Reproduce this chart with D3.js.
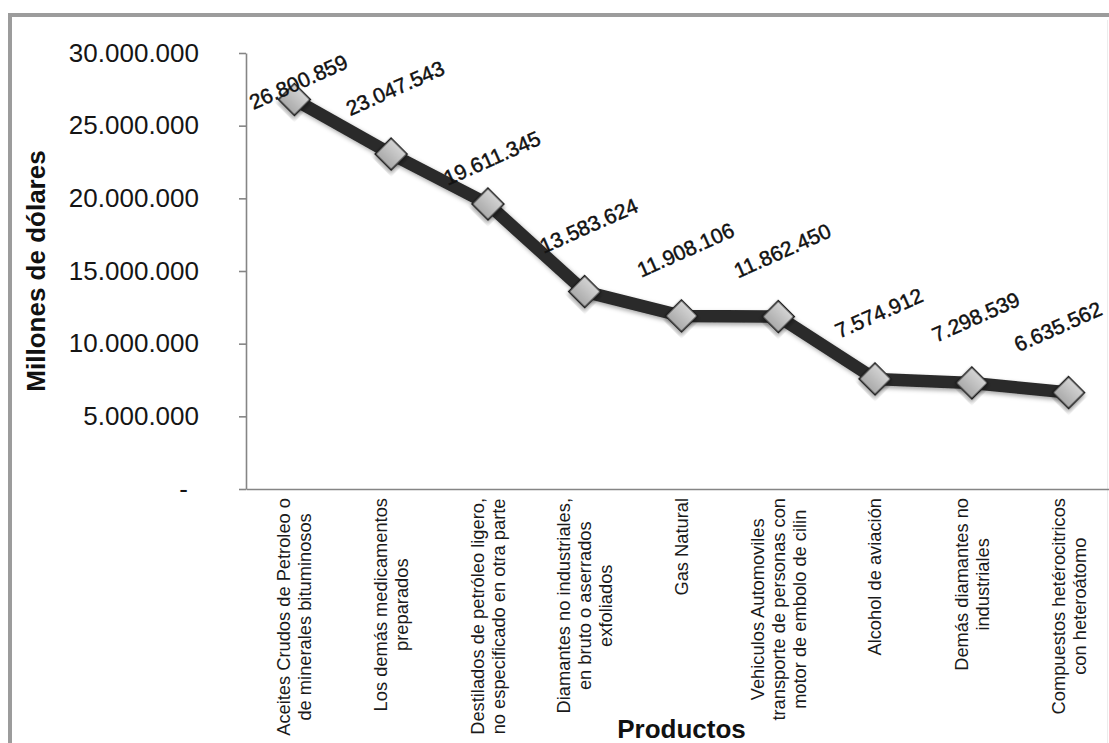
<!DOCTYPE html>
<html lang="es">
<head>
<meta charset="utf-8">
<title>Productos – Millones de dólares</title>
<script src="https://cdn.jsdelivr.net/npm/d3@7"></script>
<style>
  html, body { margin: 0; padding: 0; background: #ffffff; }
  svg { display: block; font-family: "Liberation Sans", Arial, Helvetica, sans-serif; }
</style>
</head>
<body>
<svg id="chart" width="1109" height="743"></svg>
<script>
// Product names (one entry per line of each category label)
const categories = [
  ["Aceites Crudos de Petroleo o", "de minerales bituminosos"],
  ["Los demás medicamentos", "preparados"],
  ["Destilados de petróleo ligero,", "no especificado en otra parte"],
  ["Diamantes no industriales,", "en bruto o aserrados", "exfoliados"],
  ["Gas Natural"],
  ["Vehiculos Automoviles", "transporte de personas con", "motor de embolo de cilin"],
  ["Alcohol de aviación"],
  ["Demás diamantes no", "industriales"],
  ["Compuestos hetérocitricos", "con heteroátomo"]
];

// Export value per product
const values = [
  26800859, 23047543, 19611345, 13583624, 11908106,
  11862450, 7574912, 7298539, 6635562
];

// Value-axis ticks
const yTicks = [0, 5000000, 10000000, 15000000, 20000000, 25000000, 30000000];

const yTitle = "Millones de dólares";
const xTitle = "Productos";

// ---------------------------------------------------------------
const locale = d3.formatLocale({ decimal: ",", thousands: ".", grouping: [3], currency: ["$", ""] });
const fmt = locale.format(",.0f");

const svg = d3.select("#chart");
const W = 1109, H = 743;
const plot = { left: 246, top: 53, right: 1117, bottom: 489 };

const x = d3.scaleBand()
  .domain(d3.range(values.length))
  .range([plot.left, plot.right])
  .paddingInner(0).paddingOuter(0);

const y = d3.scaleLinear()
  .domain([0, 30000000])
  .range([plot.bottom, plot.top]);

const cx = i => x(i) + x.bandwidth() / 2;

// defs: marker gradient and soft shadow
const defs = svg.append("defs");
const grad = defs.append("linearGradient")
  .attr("id", "markerFill").attr("x1", 0).attr("y1", 0).attr("x2", 0).attr("y2", 1);
grad.append("stop").attr("offset", "0%").attr("stop-color", "#d4d4d4");
grad.append("stop").attr("offset", "100%").attr("stop-color", "#a9a9a9");

const shadow = defs.append("filter").attr("id", "soft")
  .attr("x", "-20%").attr("y", "-20%").attr("width", "140%").attr("height", "140%");
shadow.append("feDropShadow")
  .attr("dx", 2).attr("dy", 2.5).attr("stdDeviation", 2)
  .attr("flood-color", "#000").attr("flood-opacity", 0.35);

// outer frame of the chart area
svg.append("rect")
  .attr("x", 10).attr("y", 15)
  .attr("width", W + 20).attr("height", H + 20)
  .attr("fill", "none").attr("stroke", "#9c9c9c").attr("stroke-width", 4);
svg.append("line")
  .attr("x1", 1107.5).attr("x2", 1107.5).attr("y1", 20).attr("y2", H)
  .attr("stroke", "#ececec").attr("stroke-width", 1);

// value axis
const yAxis = svg.append("g")
  .attr("transform", `translate(${plot.left},0)`)
  .call(d3.axisLeft(y)
    .tickValues(yTicks)
    .tickSize(7)
    .tickSizeOuter(0)
    .tickPadding(40)
    .tickFormat(d => d === 0 ? "-" : fmt(d)));
yAxis.select(".domain").attr("stroke", "#858585").attr("stroke-width", 1.6);
yAxis.selectAll(".tick line").attr("stroke", "#858585").attr("stroke-width", 1.6);
yAxis.selectAll(".tick text")
  .attr("fill", "#151515")
  .style("font-size", "26px")
  .attr("dx", d => d === 0 ? -11 : 0);

// category axis
const xAxis = svg.append("g")
  .attr("transform", `translate(0,${plot.bottom})`)
  .call(d3.axisBottom(x).tickSize(0).tickSizeOuter(0).tickFormat(""));
xAxis.select(".domain").attr("stroke", "#858585").attr("stroke-width", 1.6);

// category labels, rotated, lines centred within each block
const labelTop = plot.bottom + 9;
const lineGap = 21;
const catG = svg.append("g").selectAll("g")
  .data(categories)
  .join("g")
  .attr("transform", (d, i) => `translate(${cx(i)},${labelTop}) rotate(-90)`);

catG.each(function (lines) {
  const g = d3.select(this);
  const n = lines.length;
  const texts = g.selectAll("text")
    .data(lines)
    .join("text")
    .attr("y", (d, j) => (j - (n - 1) / 2) * lineGap)
    .attr("dy", "0.35em")
    .attr("text-anchor", "middle")
    .attr("fill", "#1a1a1a")
    .style("font-size", "18.3px")
    .text(d => d);
  let maxLen = 0;
  texts.each(function () { maxLen = Math.max(maxLen, this.getComputedTextLength()); });
  texts.attr("x", -maxLen / 2);
});

// series line
const line = d3.line()
  .x((d, i) => cx(i))
  .y(d => y(d));

svg.append("path")
  .datum(values)
  .attr("d", line)
  .attr("fill", "none")
  .attr("stroke", "#2a2a2a")
  .attr("stroke-width", 12.5)
  .attr("stroke-linejoin", "round")
  .attr("filter", "url(#soft)");

// diamond markers
const diamond = d3.symbol().type(d3.symbolSquare).size(510);
svg.append("g").selectAll("path")
  .data(values)
  .join("path")
  .attr("d", diamond)
  .attr("transform", (d, i) => `translate(${cx(i)},${y(d)}) rotate(45)`)
  .attr("fill", "url(#markerFill)")
  .attr("stroke", "#1b1b1b")
  .attr("stroke-width", 1.6)
  .attr("filter", "url(#soft)");

// value labels above each marker, rotated
const labelAngle = -24;
const labelRaise = 66;
const labelFont = 21;
const manualDy = { 2: 20 }; // this label sits closer to its marker
const labels = svg.append("g").selectAll("text")
  .data(values)
  .join("text")
  .attr("text-anchor", "middle")
  .attr("dy", "0.35em")
  .attr("fill", "#111")
  .attr("stroke", "#111")
  .attr("stroke-width", 0.45)
  .style("font-size", labelFont + "px")
  .text(d => fmt(d));

labels.each(function (d, i) {
  const len = this.getComputedTextLength();
  const a = Math.abs(labelAngle) * Math.PI / 180;
  const halfW = (len * Math.cos(a) + labelFont * Math.sin(a)) / 2;
  const halfH = (len * Math.sin(a) + labelFont * Math.cos(a)) / 2;
  let lx = cx(i) + 4;
  let ly = y(d) - labelRaise + (manualDy[i] || 0);
  ly = Math.max(ly, plot.top + halfH - 2);
  lx = Math.min(lx, 1105 - halfW);
  d3.select(this).attr("transform", `translate(${lx},${ly}) rotate(${labelAngle})`);
});

// axis titles
svg.append("text")
  .attr("transform", `translate(45,${(plot.top + plot.bottom) / 2}) rotate(-90)`)
  .attr("text-anchor", "middle")
  .attr("fill", "#111")
  .style("font-size", "26px")
  .style("font-weight", "bold")
  .text(yTitle);

svg.append("text")
  .attr("x", (plot.left + plot.right) / 2)
  .attr("y", 738)
  .attr("text-anchor", "middle")
  .attr("fill", "#111")
  .style("font-size", "26px")
  .style("font-weight", "bold")
  .text(xTitle);
</script>
</body>
</html>
